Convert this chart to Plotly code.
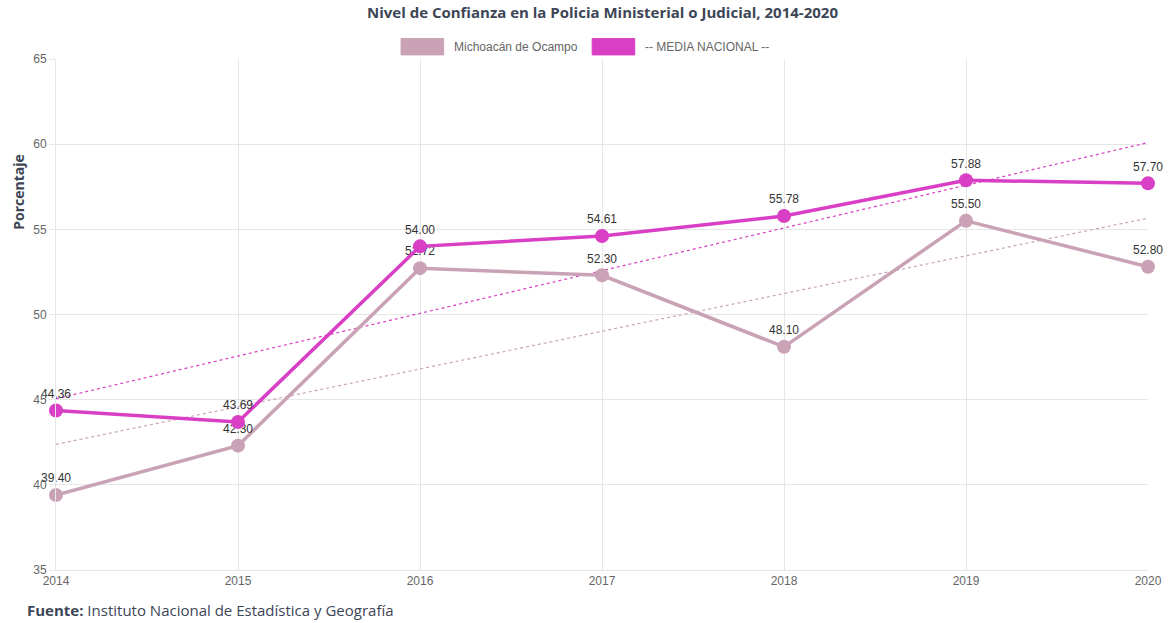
import numpy as np
import plotly.graph_objects as go

years = [2014, 2015, 2016, 2017, 2018, 2019, 2020]
michoacan = [39.40, 42.30, 52.72, 52.30, 48.10, 55.50, 52.80]
nacional = [44.36, 43.69, 54.00, 54.61, 55.78, 57.88, 57.70]
series_names = ["Michoacán de Ocampo", "-- MEDIA NACIONAL --"]
colors = ["#c9a3b5", "#d93fc4"]
y_ticks = [35, 40, 45, 50, 55, 60, 65]

fig = go.Figure()

for vals, name, col in zip([michoacan, nacional], series_names, colors):
    x = np.array(years, dtype=float)
    y = np.array(vals, dtype=float)
    slope, icpt = np.polyfit(x, y, 1)
    trend = slope * x + icpt
    fig.add_trace(go.Scatter(
        x=years, y=trend, mode="lines",
        line=dict(color=col, width=1.2, dash="dot"),
        showlegend=False, hoverinfo="skip", cliponaxis=False))

for vals, name, col in zip([michoacan, nacional], series_names, colors):
    fig.add_trace(go.Scatter(
        x=years, y=vals, mode="lines+markers+text", name=name,
        line=dict(color=col, width=3.5),
        marker=dict(color=col, size=14),
        text=[f"{v:.2f}" for v in vals],
        textposition="top center",
        textfont=dict(family="Liberation Sans, Arial", size=12, color="#333333"),
        cliponaxis=False, showlegend=False))

# manual legend (Chart.js-like boxes)
legend_items = [(0.316, 0.3624, series_names[0], colors[0]),
                (0.491, 0.5377, series_names[1], colors[1])]
for xs, xt, name, col in legend_items:
    fig.add_shape(type="rect", xref="paper", yref="paper",
                  x0=xs, x1=xs + 0.039, y0=1.008, y1=1.04,
                  fillcolor=col, line=dict(color=col, width=1), layer="above")
    fig.add_annotation(xref="paper", yref="paper", x=xt, y=1.024,
                       text=name, showarrow=False, xanchor="left", yanchor="middle",
                       font=dict(family="Liberation Sans, Arial", size=12, color="#666666"))

fig.add_annotation(xref="paper", yref="paper", x=0.5, y=1.092, yanchor="middle",
                   text="<b>Nivel de Confianza en la Policia Ministerial o Judicial, 2014-2020</b>",
                   showarrow=False,
                   font=dict(family="Open Sans", size=15, color="#3d4656"))

fig.add_annotation(xref="paper", yref="paper", x=-0.0282, y=-0.078, xanchor="left", yanchor="middle",
                   text="<b>Fuente:</b> Instituto Nacional de Estadística y Geografía",
                   showarrow=False,
                   font=dict(family="Open Sans", size=15, color="#3d4656"))

fig.add_annotation(xref="paper", yref="paper", x=-0.034, y=0.74, xanchor="center", yanchor="middle",
                   text="<b>Porcentaje</b>", textangle=-90, showarrow=False,
                   font=dict(family="Open Sans", size=14, color="#3d4656"))

fig.update_layout(
    width=1174, height=623,
    margin=dict(l=56, r=17, t=59, b=53),
    paper_bgcolor="white", plot_bgcolor="white",
    font=dict(family="Liberation Sans, Arial", size=12, color="#666666"),
    xaxis=dict(range=[2014, 2020], tickvals=years, ticktext=[str(y) for y in years],
               showgrid=True, gridcolor="#e6e6e6", gridwidth=1, zeroline=False,
               showline=True, linecolor="#e6e6e6", ticks="", ticklen=0,
               tickfont=dict(size=12, color="#666666")),
    yaxis=dict(range=[35, 65], tickvals=y_ticks, showgrid=True, gridcolor="#e6e6e6",
               zeroline=False, showline=True, linecolor="#e6e6e6",
               ticks="outside", ticklen=6, tickcolor="#e6e6e6",
               tickfont=dict(size=12, color="#666666")),
)

fig.write_html("out.html", config={"displayModeBar": False},
               post_script="document.body.style.margin='0';document.body.style.overflow='hidden';")
